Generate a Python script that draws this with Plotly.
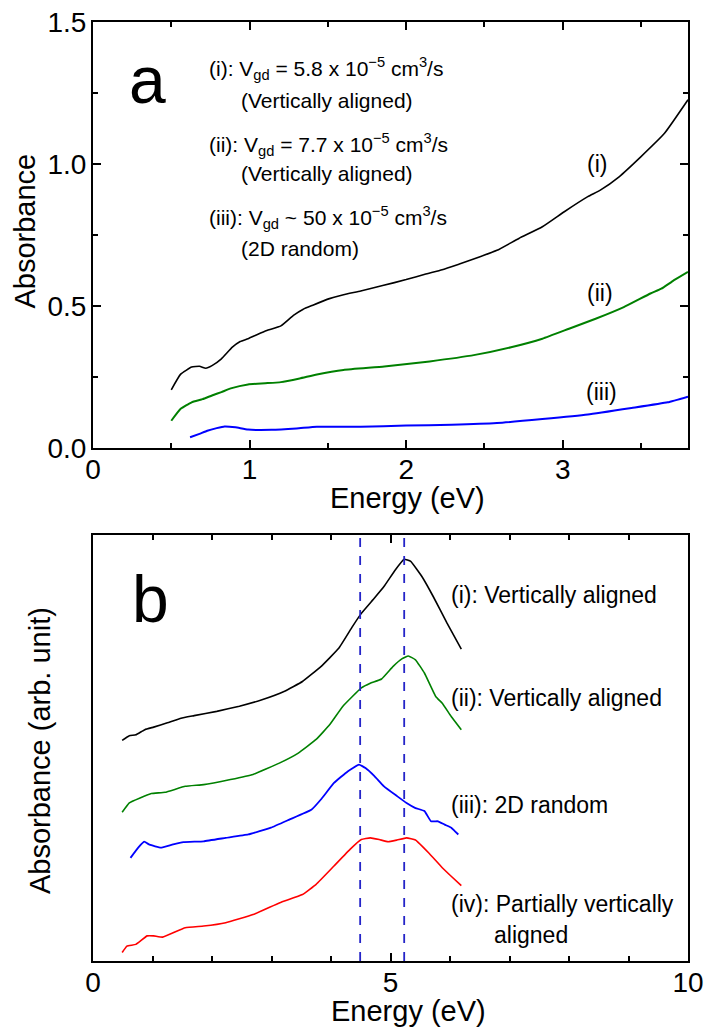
import plotly.graph_objects as go

# ---------------- Panel a data ----------------
a_i_E = [0.50, 0.56, 0.63, 0.68, 0.72, 0.76, 0.82, 0.89, 0.94, 0.99, 1.05, 1.11, 1.20, 1.28, 1.34, 1.40, 1.51, 1.60, 1.71, 1.85, 2.00,
         2.12, 2.23, 2.34, 2.44, 2.58, 2.72, 2.87, 3.01, 3.16, 3.24, 3.36, 3.50, 3.65, 3.80]
a_i_A = [0.205, 0.26, 0.285, 0.288, 0.281, 0.290, 0.314, 0.355, 0.375, 0.385, 0.400, 0.414, 0.430, 0.467, 0.488, 0.502, 0.526, 0.540, 0.553, 0.572, 0.593,
         0.612, 0.628, 0.648, 0.667, 0.696, 0.738, 0.779, 0.832, 0.885, 0.908, 0.955, 1.026, 1.108, 1.226]

a_ii_E = [0.50, 0.56, 0.63, 0.70, 0.76, 0.82, 0.88, 0.99, 1.10, 1.20, 1.32, 1.43, 1.60, 1.86, 2.15, 2.44, 2.67, 2.87, 3.04, 3.21, 3.39, 3.56, 3.63, 3.70, 3.80]
a_ii_A = [0.096, 0.138, 0.161, 0.172, 0.185, 0.197, 0.210, 0.224, 0.228, 0.232, 0.245, 0.259, 0.275, 0.287, 0.305, 0.328, 0.355, 0.385, 0.420, 0.455, 0.496, 0.544, 0.561, 0.587, 0.620]

a_iii_E = [0.62, 0.68, 0.73, 0.79, 0.84, 0.91, 0.99, 1.14, 1.30, 1.43, 1.71, 2.00, 2.29, 2.58, 2.87, 3.16, 3.44, 3.67, 3.80]
a_iii_A = [0.038, 0.050, 0.061, 0.070, 0.076, 0.073, 0.065, 0.064, 0.069, 0.075, 0.075, 0.079, 0.082, 0.088, 0.102, 0.118, 0.141, 0.161, 0.181]

# ---------------- Panel b data ----------------
b_i_E = [0.49, 0.61, 0.72, 0.87, 1.02, 1.25, 1.48, 1.70, 2.08, 2.46, 2.84, 3.22, 3.52, 3.83, 4.13, 4.36, 4.51, 4.73, 4.89, 5.08, 5.23,
         5.34, 5.53, 5.72, 5.95, 6.19]
b_i_A = [5.18, 5.29, 5.31, 5.43, 5.49, 5.59, 5.70, 5.76, 5.86, 5.98, 6.13, 6.33, 6.56, 6.91, 7.34, 7.85, 8.16, 8.52, 8.79, 9.18, 9.43,
         9.38, 9.02, 8.55, 7.93, 7.32]

b_ii_E = [0.49, 0.61, 0.80, 0.98, 1.21, 1.55, 1.86, 2.31, 2.69, 3.14, 3.45, 3.75, 3.98, 4.20, 4.51, 4.66, 4.85, 5.04, 5.19, 5.30,
          5.42, 5.57, 5.76, 5.87, 6.02, 6.19]
b_ii_A = [3.49, 3.71, 3.83, 3.93, 3.96, 4.10, 4.14, 4.26, 4.38, 4.65, 4.88, 5.20, 5.55, 5.98, 6.41, 6.52, 6.62, 6.91, 7.09, 7.16,
          7.07, 6.76, 6.21, 6.05, 5.74, 5.43]

b_iii_E = [0.63, 0.76, 0.86, 0.95, 1.14, 1.33, 1.52, 1.86, 2.23, 2.61, 2.99, 3.30, 3.67, 3.83, 4.05, 4.28, 4.47, 4.58, 4.73, 4.89,
           5.11, 5.27, 5.42, 5.57, 5.68, 5.80, 5.91, 6.02, 6.08, 6.14]
b_iii_A = [2.42, 2.66, 2.80, 2.73, 2.66, 2.73, 2.79, 2.81, 2.89, 2.97, 3.13, 3.32, 3.55, 3.79, 4.18, 4.45, 4.61, 4.53, 4.34, 4.10,
           3.87, 3.71, 3.59, 3.52, 3.28, 3.28, 3.20, 3.13, 3.05, 2.97]

b_iv_E = [0.49, 0.57, 0.72, 0.91, 1.02, 1.17, 1.55, 1.86, 2.23, 2.69, 3.14, 3.52, 3.75, 4.05, 4.32, 4.51, 4.66, 4.81, 4.96, 5.11,
          5.27, 5.42, 5.64, 5.87, 6.02, 6.19]
b_iv_A = [0.20, 0.35, 0.39, 0.59, 0.59, 0.56, 0.78, 0.82, 0.90, 1.09, 1.37, 1.56, 1.80, 2.23, 2.62, 2.85, 2.89, 2.85, 2.80, 2.84,
          2.89, 2.84, 2.54, 2.19, 1.99, 1.77]

peak_E = [4.49, 5.23]

FONT = "Liberation Sans, Arial, Helvetica, sans-serif"
BLACK = "#000000"
GREEN = "#008000"
BLUE = "#0000ff"
RED = "#ff0000"
DASH = "#2424c8"

fig = go.Figure()
for E, A, c, w in [(a_i_E, a_i_A, BLACK, 1.6), (a_ii_E, a_ii_A, GREEN, 2.0), (a_iii_E, a_iii_A, BLUE, 2.0)]:
    fig.add_trace(go.Scatter(x=E, y=A, mode="lines", line=dict(color=c, width=w, shape="spline", smoothing=0.4),
                             xaxis="x", yaxis="y", showlegend=False))
for E, A, c, w in [(b_i_E, b_i_A, BLACK, 1.6), (b_ii_E, b_ii_A, GREEN, 1.6), (b_iii_E, b_iii_A, BLUE, 1.8), (b_iv_E, b_iv_A, RED, 1.6)]:
    fig.add_trace(go.Scatter(x=E, y=A, mode="lines", line=dict(color=c, width=w, shape="spline", smoothing=0.3),
                             xaxis="x2", yaxis="y2", showlegend=False))

for pe in peak_E:
    fig.add_shape(type="line", xref="x2", yref="y2 domain", x0=pe, x1=pe, y0=0, y1=1,
                  line=dict(color=DASH, width=1.8, dash="dash"))

axis_common = dict(showline=True, linecolor="black", linewidth=2, mirror="ticks", ticks="inside",
                   tickcolor="black", tickwidth=1.5, ticklen=8, showgrid=False, zeroline=False, automargin=False,
                   tickfont=dict(family=FONT, size=28, color="black"))
minor_common = dict(ticks="inside", ticklen=5, tickwidth=1.5, tickcolor="black")

fig.update_layout(
    width=708, height=1032,
    margin=dict(l=93, r=20, t=22, b=71),
    paper_bgcolor="white", plot_bgcolor="white",
    font=dict(family=FONT, color="black"),
    xaxis=dict(domain=[0, 1], anchor="y", range=[0, 3.8], tickvals=[0, 1, 2, 3], ticktext=["0", "1", "2", "3"],
               ticklabelstandoff=-5, minor=dict(dtick=0.5, tick0=0, **minor_common), **axis_common),
    yaxis=dict(domain=[0.5463, 1], anchor="x", range=[0, 1.5], tickvals=[0, 0.5, 1.0, 1.5],
               ticktext=["0.0", "0.5", "1.0", "1.5"], ticklabelstandoff=-1,
               minor=dict(dtick=0.25, tick0=0, **minor_common), **axis_common),
    xaxis2=dict(domain=[0, 1], anchor="y2", range=[0, 10], tickvals=[0, 5, 10], ticktext=["0", "5", "10"],
                ticklabelstandoff=-5, minor=dict(dtick=1, tick0=0, **minor_common), **axis_common),
    yaxis2=dict(domain=[0, 0.4537], anchor="x2", range=[0, 10], showline=True, linecolor="black", linewidth=2,
                mirror=True, ticks="", showticklabels=False, showgrid=False, zeroline=False, automargin=False),
)

ann = []
# axis titles
ann.append(dict(text="Energy (eV)", xref="paper", yref="paper", x=0.529, y=0.493, showarrow=False,
                xanchor="center", yanchor="middle", font=dict(size=29)))
ann.append(dict(text="Energy (eV)", xref="paper", yref="paper", x=0.531, y=-0.053, showarrow=False,
                xanchor="center", yanchor="middle", font=dict(size=29)))
ann.append(dict(text="Absorbance", xref="paper", yref="paper", x=-0.114, y=0.777, showarrow=False, textangle=-90,
                xanchor="center", yanchor="middle", font=dict(size=29)))
ann.append(dict(text="Absorbance (arb. unit)", xref="paper", yref="paper", x=-0.089, y=0.2236, showarrow=False,
                textangle=-90, xanchor="center", yanchor="middle", font=dict(size=29)))
# panel letters
ann.append(dict(text="a", xref="x", yref="y", x=0.35, y=1.295, showarrow=False, font=dict(size=66),
                xanchor="center", yanchor="middle"))
ann.append(dict(text="b", xref="x2", yref="y2", x=0.96, y=8.5, showarrow=False, font=dict(size=66),
                xanchor="center", yanchor="middle"))
# panel a legend text
top_lines = [
    ("(i): V<sub>gd</sub> = 5.8 x 10<sup>\u22125</sup> cm<sup>3</sup>/s", 0.726, 1.335),
    ("(Vertically aligned)", 0.93, 1.225),
    ("(ii): V<sub>gd</sub> = 7.7 x 10<sup>\u22125</sup> cm<sup>3</sup>/s", 0.726, 1.067),
    ("(Vertically aligned)", 0.93, 0.968),
    ("(iii): V<sub>gd</sub> ~ 50 x 10<sup>\u22125</sup> cm<sup>3</sup>/s", 0.726, 0.81),
    ("(2D random)", 0.93, 0.704),
]
for t, x, y in top_lines:
    ann.append(dict(text=t, xref="x", yref="y", x=x, y=y, showarrow=False, xanchor="left", yanchor="middle",
                    font=dict(size=21)))
for t, x, y in [("(i)", 3.22, 1.0), ("(ii)", 3.24, 0.545), ("(iii)", 3.25, 0.197)]:
    ann.append(dict(text=t, xref="x", yref="y", x=x, y=y, showarrow=False, xanchor="center", yanchor="middle",
                    font=dict(size=23)))
# panel b labels
for t, x, y in [("(i): Vertically aligned", 5.98, 8.6), ("(ii): Vertically aligned", 5.98, 6.17),
                ("(iii): 2D random", 5.98, 3.66), ("(iv): Partially vertically", 5.98, 1.33), ("aligned", 6.70, 0.62)]:
    ann.append(dict(text=t, xref="x2", yref="y2", x=x, y=y, showarrow=False, xanchor="left", yanchor="middle",
                    font=dict(size=23)))
fig.update_layout(annotations=ann)

fig.write_html("out.html", config={"displayModeBar": False},
               post_script="document.body.style.margin='0px';document.body.style.padding='0px';")
